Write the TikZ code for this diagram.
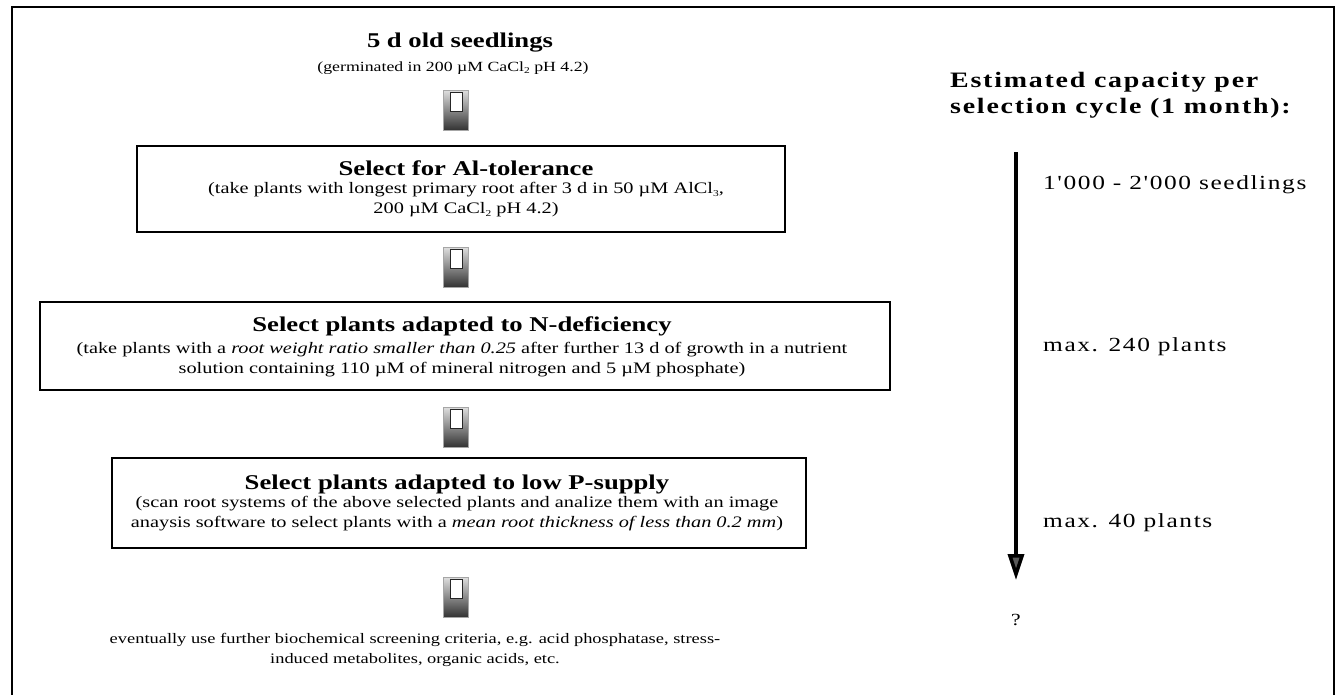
\documentclass[tikz,border=0pt]{standalone}
\usepackage{fontspec}
\setmainfont{Liberation Serif}[FakeStretch=1.27]
\newfontfamily\rightfont{Liberation Serif}[FakeStretch=1.27, LetterSpace=8]
\usetikzlibrary{arrows.meta}
\newcommand\tfont{\fontsize{21}{24}\selectfont\bfseries}
\newcommand\sfont{\fontsize{16}{20}\selectfont}
\newcommand\subx[1]{\raisebox{-0.3ex}{\fontsize{9}{9}\selectfont #1}}
\begin{document}
\begin{tikzpicture}[x=1pt,y=-1pt,
  frame/.style={draw, line width=1.2pt},
  stagebox/.style={draw, line width=1.5pt, inner sep=0pt},
  plain/.style={align=center, inner sep=0pt},
  icon/.style={minimum width=25, minimum height=40, inner sep=0pt, top color=gray!25, bottom color=black!80, draw=gray!70},
  shaft/.style={draw=black!85, line width=1pt, fill=white},
  flowarrow/.style={line width=3.5pt, -{Triangle[length=26pt,width=16pt,fill=black!65]}}
]
\useasboundingbox (0,0) rectangle (1340,694);
\draw[frame] (12,720) -- (12,7) -- (1334,7) -- (1334,720);

% left column
\node[plain, font=\tfont] (seed) at (460,43) {5 d old seedlings};
\node[plain, font=\fontsize{14}{16}\selectfont] (seedsub) at (453,68) {(germinated in 200 µM CaCl\subx{2} pH 4.2)};

\node[icon] (i1) at (456,110) {};
\draw[shaft] ([xshift=-6,yshift=-3]i1.north) rectangle ([xshift=6,yshift=-22]i1.north);

\node[stagebox, minimum width=648, minimum height=86] (b1) at (461,189) {};
\node[plain, font=\tfont] (t1) at (466,168) {Select for Al-tolerance};
\node[plain, font=\sfont] (s1) at (466,200) {(take plants with longest primary root after 3 d in 50 µM AlCl\subx{3},\\
    200 µM CaCl\subx{2} pH 4.2)};

\node[icon] (i2) at (456,267) {};
\draw[shaft] ([xshift=-6,yshift=-3]i2.north) rectangle ([xshift=6,yshift=-22]i2.north);

\node[stagebox, minimum width=850, minimum height=88] (b2) at (465,346) {};
\node[plain, font=\tfont] (t2) at (462,326) {Select plants adapted to N-deficiency};
\node[plain, font=\sfont] (s2) at (462,360) {(take plants with a \textit{root weight ratio smaller than 0.25} after further 13 d of growth in a nutrient\\
    solution containing 110 µM of mineral nitrogen and 5 µM phosphate)};

\node[icon] (i3) at (456,427) {};
\draw[shaft] ([xshift=-6,yshift=-3]i3.north) rectangle ([xshift=6,yshift=-22]i3.north);

\node[stagebox, minimum width=694, minimum height=90] (b3) at (459,503) {};
\node[plain, font=\tfont] (t3) at (457,484) {Select plants adapted to low P-supply};
\node[plain, font=\sfont] (s3) at (457,514) {(scan root systems of the above selected plants and analize them with an image\\
    anaysis software to select plants with a \textit{mean root thickness of less than 0.2 mm})};

\node[icon] (i4) at (456,597) {};
\draw[shaft] ([xshift=-6,yshift=-3]i4.north) rectangle ([xshift=6,yshift=-22]i4.north);

\node[plain, font=\fontsize{14.5}{20}\selectfont] (final) at (415,650) {eventually use further biochemical screening criteria, e.g. acid phosphatase, stress-\\
  induced metabolites, organic acids, etc.};

% right column
\node[plain, anchor=west, align=left, font=\fontsize{22}{26}\selectfont\rightfont\bfseries] (cap) at (950,95) {Estimated capacity per\\ selection cycle (1 month):};
\coordinate (atop) at (1016,152);
\coordinate (abot) at (1016,580);
\draw[flowarrow] (atop) -- (abot);
\node[plain, anchor=west, font=\fontsize{20}{24}\selectfont\rightfont] (c1) at (1043,185) {1'000 - 2'000 seedlings};
\node[plain, anchor=west, font=\fontsize{20}{24}\selectfont\rightfont] (c2) at (1043,347) {max. 240 plants};
\node[plain, anchor=west, font=\fontsize{20}{24}\selectfont\rightfont] (c3) at (1043,523) {max. 40 plants};
\node[plain, font=\fontsize{17}{20}\selectfont] (c4) at (1016,620) {?};
\end{tikzpicture}
\end{document}
